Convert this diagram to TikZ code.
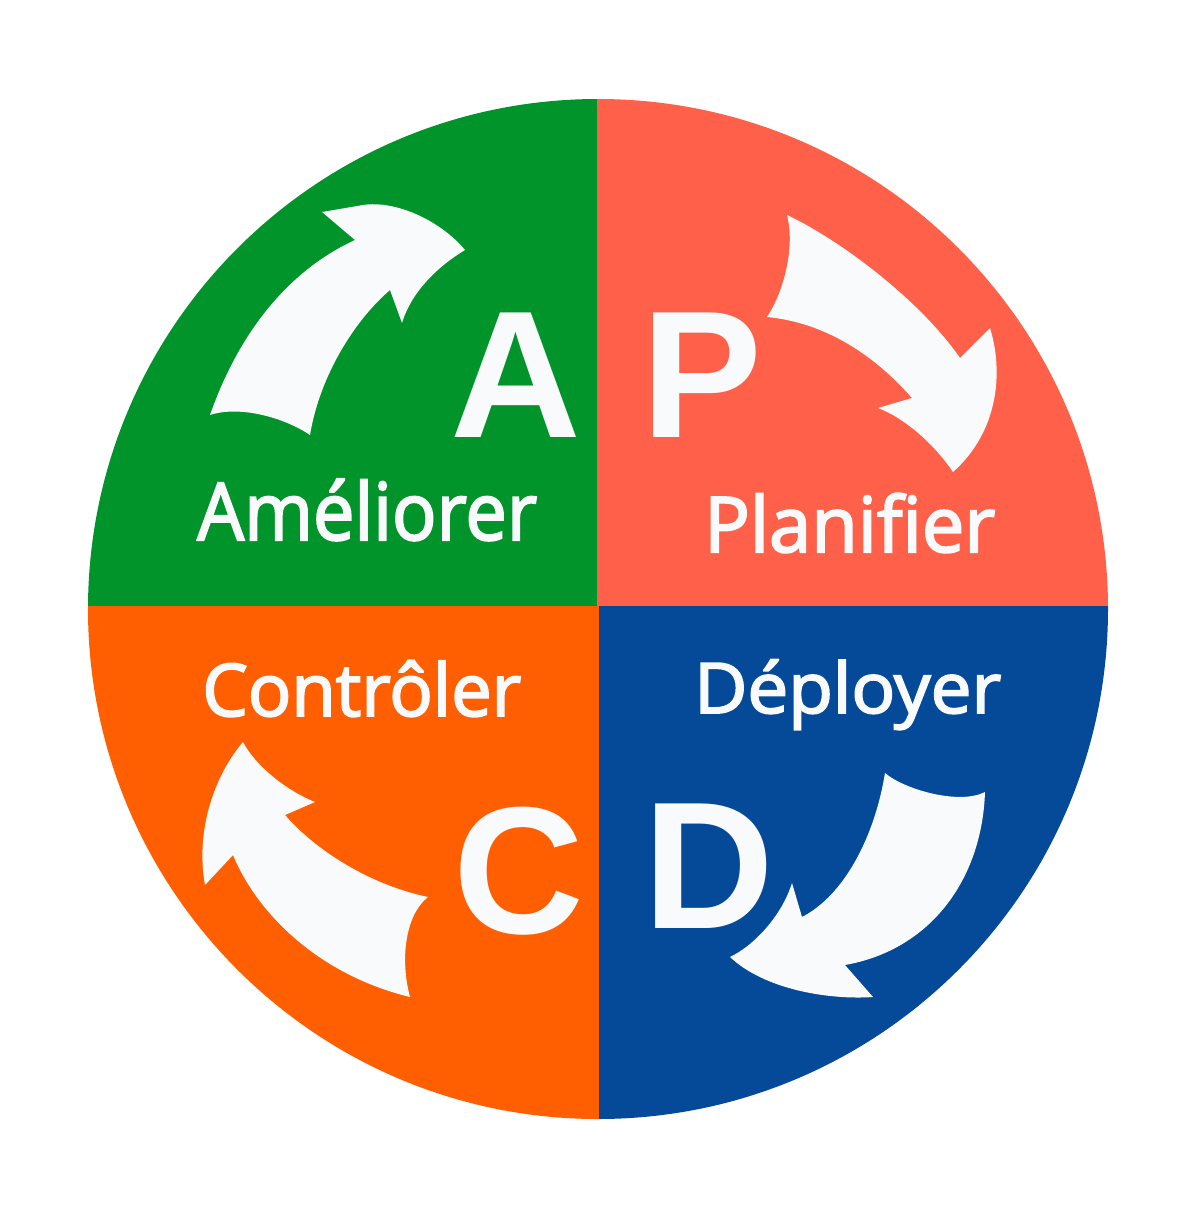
\documentclass[tikz,border=0pt]{standalone}
\usepackage{fontspec}
\usepackage{graphicx}
\newfontfamily\letfont{Liberation Sans}
\newfontfamily\labfont{Open Sans}[FakeBold=2.6]
\definecolor{qgreen}{HTML}{00942A}
\definecolor{qred}{HTML}{FF604A}
\definecolor{qorange}{HTML}{FF5F00}
\definecolor{qblue}{HTML}{044A99}
\definecolor{wt}{HTML}{F9FAFB}
\newsavebox\fitbox
\newlength\fitw
\newcommand\fitlab[3]{\fontsize{#1}{#1}\selectfont\sbox\fitbox{#3}\setlength\fitw{\wd\fitbox}\pgfmathsetmacro\fitsf{#2*0.708661/\fitw}\scalebox{\fitsf}[1]{\usebox\fitbox}}
\begin{document}
\begin{tikzpicture}[x=0.025cm,y=-0.025cm,
  letter/.style={text=wt, font=\letfont\bfseries\fontsize{128.8}{130}\selectfont, inner sep=0pt, anchor=base},
  lab/.style={text=wt, font=\labfont, inner sep=0pt, anchor=base west},
  arr/.style={fill=wt}]
\useasboundingbox (0,0) rectangle (1200,1205);
\fill[white] (0,0) rectangle (1200,1205);
\begin{scope}
\clip (598,609) circle[radius=510];
\fill[qgreen] (0,0) rectangle (597,606);
\fill[qred] (597,0) rectangle (1200,606);
\fill[qorange] (0,606) rectangle (599,1205);
\fill[qblue] (599,606) rectangle (1200,1205);
\end{scope}
% arrows
\fill[arr] (210,415) .. controls (240,330) and (290,270) .. (355,240) -- (322,212) -- (363,205)
  .. controls (395,200) and (440,220) .. (465,250) .. controls (440,265) and (412,290) .. (402,323)
  -- (390,290) .. controls (355,320) and (320,375) .. (310,435) .. controls (285,418) and (240,405) .. (210,415) -- cycle;
\fill[arr] (787,215) .. controls (840,240) and (920,300) .. (960,358) -- (990,328)
  .. controls (1003,370) and (1000,430) .. (953,472) .. controls (935,445) and (905,418) .. (878,408)
  -- (912,398) .. controls (870,350) and (820,322) .. (767,317) .. controls (785,290) and (795,245) .. (787,215) -- cycle;
\fill[arr] (885,773) .. controls (905,790) and (960,805) .. (985,792) .. controls (982,880) and (930,950) .. (845,965)
  -- (873,997) .. controls (830,1000) and (765,990) .. (730,957) .. controls (755,945) and (782,915) .. (792,883)
  -- (802,917) .. controls (845,895) and (875,835) .. (885,773) -- cycle;
\fill[arr] (243,742) .. controls (215,775) and (195,830) .. (205,885) -- (233,855)
  .. controls (258,915) and (320,975) .. (410,997) .. controls (400,960) and (405,915) .. (428,897)
  .. controls (370,885) and (315,850) .. (285,815) -- (315,802) .. controls (285,790) and (255,765) .. (243,742) -- cycle;
% letters
\node[letter] (A) at (516,437) {A};
\node[letter] (P) at (702,437) {P};
\node[letter] (C) at (519,933) {C};
\node[letter] (D) at (709,928) {D};
% labels
\node[lab] (lA) at (197,540) {\fitlab{56.6}{341}{Améliorer}};
\node[lab] (lP) at (704,552) {\fitlab{54.6}{292}{Planifier}};
\node[lab] (lC) at (202,716) {\fitlab{51.6}{320}{Contrôler}};
\node[lab] (lD) at (694,713) {\fitlab{49.6}{308}{Déployer}};
\end{tikzpicture}
\end{document}
